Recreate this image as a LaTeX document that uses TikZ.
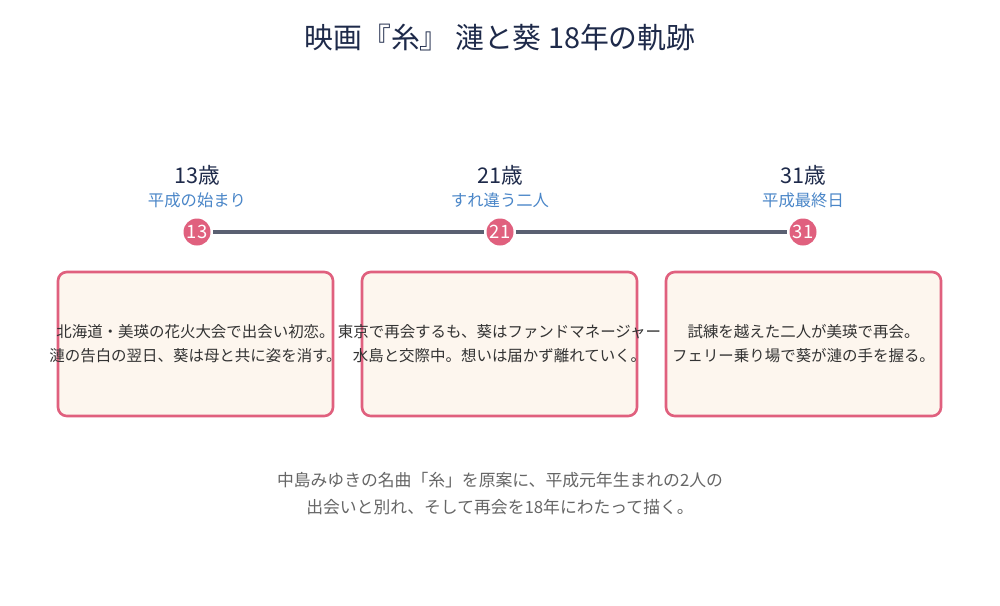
\documentclass[tikz,border=0pt]{standalone}
\usepackage{fontspec}
\usepackage{xcolor}
\setmainfont{Noto Sans CJK JP}
\definecolor{navy}{HTML}{1E2A4A}
\definecolor{rose}{HTML}{E0607E}
\definecolor{slate}{HTML}{5A6072}
\definecolor{skyblue}{HTML}{4A86C8}
\definecolor{cream}{HTML}{FDF6EE}
\definecolor{ink}{HTML}{333333}
\definecolor{note}{HTML}{666666}
\tikzset{
  marker/.style={circle,fill=rose,text=white,inner sep=0pt,minimum size=27\pxu,font=\fontsize{10.5}{12}\selectfont},
  age/.style={text=navy,font=\fontsize{12.3}{14}\selectfont},
  era/.style={text=skyblue,font=\fontsize{9.3}{11}\selectfont},
  card/.style={draw=rose,line width=1.5pt,fill=cream,rounded corners=5pt},
  cardtext/.style={text=ink,align=center,font=\fontsize{8.8}{13.6}\selectfont},
  track/.style={slate,line width=2pt,shorten <=2\pxu,shorten >=2\pxu},
}
\newlength{\pxu}
\setlength{\pxu}{0.02cm}
\begin{document}
\begin{tikzpicture}[x=0.02cm,y=-0.02cm]
\useasboundingbox[fill=white] (0,0) rectangle (1000,605);
\node[text=navy,font=\fontsize{16.4}{19}\selectfont] (title) at (500,38) {映画『糸』 漣と葵 18年の軌跡};

% timeline
\node[marker] (m13) at (197,232) {13};
\node[marker] (m21) at (500,232) {21};
\node[marker] (m31) at (803,232) {31};
\draw[track] (m13) -- (m21);
\draw[track] (m21) -- (m31);
\node[age] (a13) at (197,175) {13歳};
\node[age] (a21) at (500,175) {21歳};
\node[age] (a31) at (803,175) {31歳};
\node[era] (e13) at (197,200) {平成の始まり};
\node[era] (e21) at (500,200) {すれ違う二人};
\node[era] (e31) at (803,200) {平成最終日};

% cards
\draw[card] (58,272) rectangle (333,416);
\draw[card] (362,272) rectangle (637,416);
\draw[card] (666,272) rectangle (941,416);
\node[cardtext] (c13) at (195.5,344) {北海道・美瑛の花火大会で出会い初恋。\\漣の告白の翌日、葵は母と共に姿を消す。};
\node[cardtext] (c21) at (499.5,344) {東京で再会するも、葵はファンドマネージャー\\水島と交際中。想いは届かず離れていく。};
\node[cardtext] (c31) at (803.5,344) {試練を越えた二人が美瑛で再会。\\フェリー乗り場で葵が漣の手を握る。};

\node[text=note,align=center,font=\fontsize{9.57}{15.3}\selectfont] (summary) at (500,494) {中島みゆきの名曲「糸」を原案に、平成元年生まれの2人の\\出会いと別れ、そして再会を18年にわたって描く。};
\end{tikzpicture}
\end{document}
